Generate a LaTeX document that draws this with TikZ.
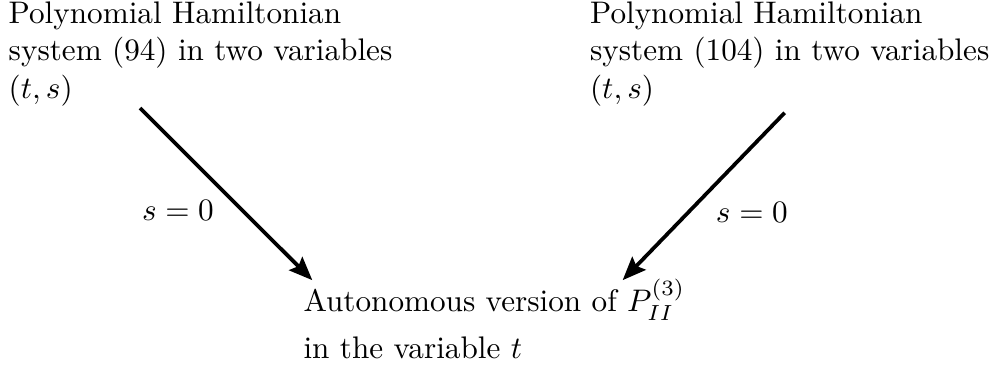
\documentclass[tikz,border=0pt]{standalone}
\usetikzlibrary{arrows.meta, positioning}
\tikzset{
  textblock/.style={align=left, inner sep=0pt, anchor=north west},
  arrow/.style={-{Stealth[length=7.5pt, width=6pt, inset=1.2pt]}, line width=1.2pt}
}
\begin{document}
\begin{tikzpicture}[x=1pt, y=1pt]
\useasboundingbox (0,0) rectangle (321.5,-117.3);
\node[textblock] (hamA) at (2.6,-0.3) {Polynomial Hamiltonian\\system (94) in two variables\\$(t,s)$};
\node[textblock, right=63pt of hamA] (hamB) {Polynomial Hamiltonian\\system (104) in two variables\\$(t,s)$};
\node[textblock] (auto) at (97.1,-89.2) {Autonomous version of $P_{II}^{(3)}$\\[3pt]in the variable $t$};

\draw[arrow] ([xshift=-19.4pt, yshift=-0.5pt]hamA.south) -- node[below left, yshift=2pt] {$s=0$} ([xshift=3pt, yshift=-0.6pt]auto.north west);
\draw[arrow] ([xshift=-1.6pt, yshift=-2pt]hamB.south) -- node[below right, yshift=2pt] {$s=0$} ([xshift=-20.2pt, yshift=-0.6pt]auto.north east);
\end{tikzpicture}
\end{document}
